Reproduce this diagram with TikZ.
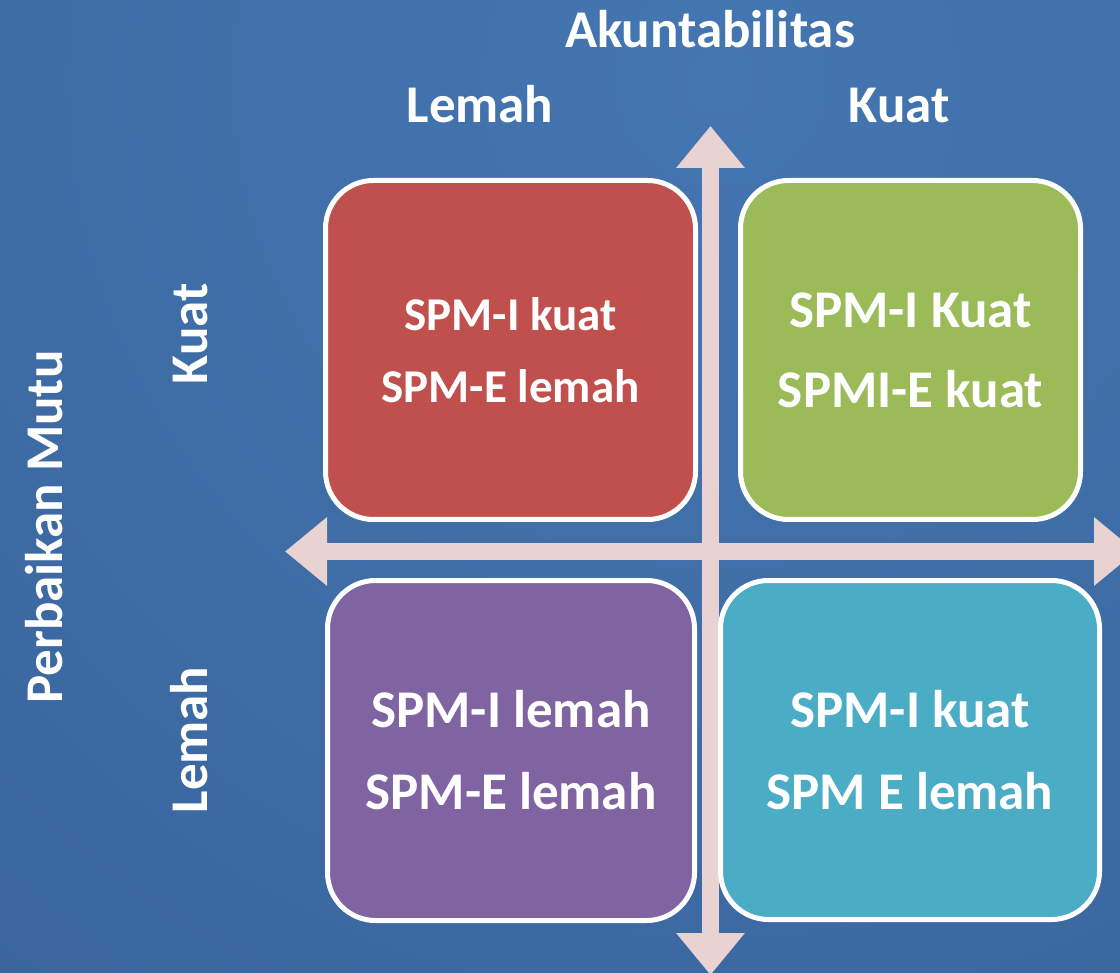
\documentclass[tikz,border=0pt]{standalone}
\usepackage{fontspec}
\setmainfont{Carlito}
\usetikzlibrary{arrows.meta}
\definecolor{bgin}{RGB}{68,118,177}
\definecolor{bgout}{RGB}{46,80,132}
\definecolor{axiscol}{RGB}{232,210,210}
\definecolor{qred}{RGB}{192,80,77}
\definecolor{qgreen}{RGB}{155,187,89}
\definecolor{qpurple}{RGB}{128,100,162}
\definecolor{qteal}{RGB}{75,172,198}
\begin{document}
\begin{tikzpicture}[x=1pt,y=-1pt,
  quad/.style={draw=white,line width=5pt,rounded corners=48pt,inner sep=0pt,align=center,text=white,font=\bfseries\fontsize{53}{82}\selectfont},
  lbl/.style={text=white,font=\bfseries\fontsize{53}{64}\selectfont,anchor=base,inner sep=0pt},
  axis/.style={draw=axiscol,line width=17pt,{Triangle[width=66pt,length=42pt]}-{Triangle[width=66pt,length=42pt]}}]
 \useasboundingbox (0,0) rectangle (1120,973);
 \clip (0,0) rectangle (1120,973);
 \shade[inner color=bgin,outer color=bgout] (-1880,-2520) rectangle (3320,2680);
 \coordinate (w) at (285,551.5);
 \coordinate (e) at (1136,551.5);
 \coordinate (n) at (710.5,126);
 \coordinate (s) at (710.5,975);
 \draw[axis] (w) -- (e);
 \draw[axis] (n) -- (s);
 \node[quad,fill=qred,minimum width=370pt,minimum height=339pt,font=\bfseries\fontsize{47}{72}\selectfont] (lk) at (510.5,350) {SPM-I kuat\\SPM-E lemah};
 \node[quad,fill=qgreen,minimum width=340pt,minimum height=339pt,font=\bfseries\fontsize{53}{80}\selectfont] (kk) at (910.5,350) {SPM-I Kuat\\SPMI-E kuat};
 \node[quad,fill=qpurple,minimum width=367pt,minimum height=340pt] (ll) at (511,750.5) {SPM-I lemah\\SPM-E lemah};
 \node[quad,fill=qteal,minimum width=379pt,minimum height=339pt] (kl) at (910,750) {SPM-I kuat\\SPM E lemah};
 \node[lbl] (akun) at (710,48) {Akuntabilitas};
 \node[lbl] (alemah) at (480,123) {Lemah};
 \node[lbl] (akuat) at (899,123) {Kuat};
 \node[lbl,rotate=90] (mutu) at (62,527) {Perbaikan Mutu};
 \node[lbl,rotate=90] (mkuat) at (207,334) {Kuat};
 \node[lbl,rotate=90] (mlemah) at (207,740) {Lemah};
\end{tikzpicture}
\end{document}
